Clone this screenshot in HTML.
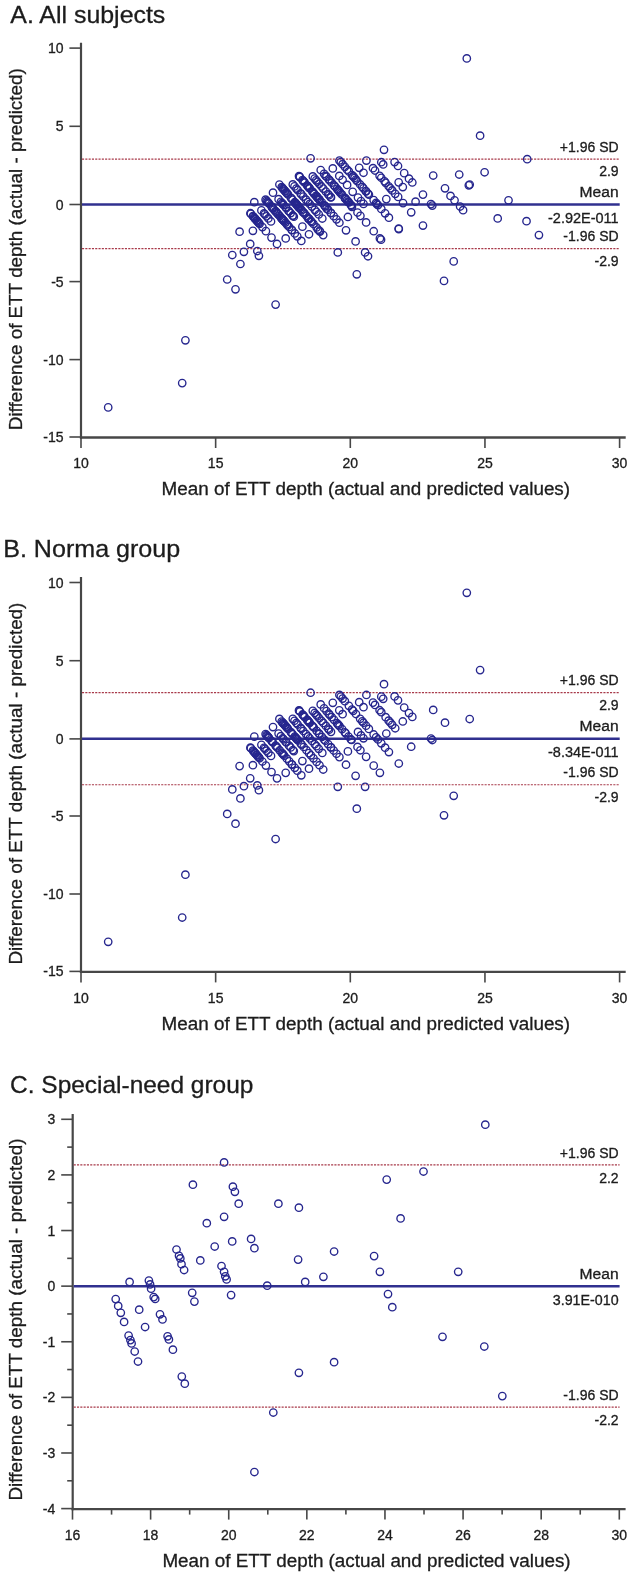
<!DOCTYPE html>
<html><head><meta charset="utf-8"><style>
html,body{margin:0;padding:0;background:#fff;}
svg{display:block;will-change:transform;}
text{font-family:"Liberation Sans",sans-serif;fill:#1c1c1c;stroke:#1c1c1c;stroke-width:0.3px;}
</style></head><body>
<svg width="632" height="1575" viewBox="0 0 632 1575">
<rect width="632" height="1575" fill="#fff"/>
<text x="10.3" y="22.6" font-size="24" text-anchor="start" textLength="155" lengthAdjust="spacingAndGlyphs">A. All subjects</text>
<text transform="translate(22.2,249.2) rotate(-90)" x="0" y="0" font-size="18" text-anchor="middle" textLength="362" lengthAdjust="spacingAndGlyphs">Difference of ETT depth (actual - predicted)</text>
<text x="161.6" y="495.1" font-size="18" text-anchor="start" textLength="408.5" lengthAdjust="spacingAndGlyphs">Mean of ETT depth (actual and predicted values)</text>
<line x1="81" y1="42.7" x2="81" y2="438.7" stroke="#474747" stroke-width="2.2"/>
<line x1="79.9" y1="437.5" x2="625.7" y2="437.5" stroke="#474747" stroke-width="2.4"/>
<line x1="69.4" y1="48.1" x2="81" y2="48.1" stroke="#474747" stroke-width="1.6"/>
<text x="63.6" y="53.1" font-size="14" text-anchor="end">10</text>
<line x1="69.4" y1="126.3" x2="81" y2="126.3" stroke="#474747" stroke-width="1.6"/>
<text x="63.6" y="131.3" font-size="14" text-anchor="end">5</text>
<line x1="69.4" y1="204.5" x2="81" y2="204.5" stroke="#474747" stroke-width="1.6"/>
<text x="63.6" y="209.5" font-size="14" text-anchor="end">0</text>
<line x1="69.4" y1="281.6" x2="81" y2="281.6" stroke="#474747" stroke-width="1.6"/>
<text x="63.6" y="286.6" font-size="14" text-anchor="end">-5</text>
<line x1="69.4" y1="359.6" x2="81" y2="359.6" stroke="#474747" stroke-width="1.6"/>
<text x="63.6" y="364.6" font-size="14" text-anchor="end">-10</text>
<line x1="69.4" y1="437" x2="81" y2="437" stroke="#474747" stroke-width="1.6"/>
<text x="63.6" y="442" font-size="14" text-anchor="end">-15</text>
<line x1="81" y1="437.5" x2="81" y2="448.0" stroke="#474747" stroke-width="1.6"/>
<text x="81" y="468.3" font-size="14" text-anchor="middle">10</text>
<line x1="215.65" y1="437.5" x2="215.65" y2="448.0" stroke="#474747" stroke-width="1.6"/>
<text x="215.65" y="468.3" font-size="14" text-anchor="middle">15</text>
<line x1="350.3" y1="437.5" x2="350.3" y2="448.0" stroke="#474747" stroke-width="1.6"/>
<text x="350.3" y="468.3" font-size="14" text-anchor="middle">20</text>
<line x1="484.95" y1="437.5" x2="484.95" y2="448.0" stroke="#474747" stroke-width="1.6"/>
<text x="484.95" y="468.3" font-size="14" text-anchor="middle">25</text>
<line x1="619.6" y1="437.5" x2="619.6" y2="448.0" stroke="#474747" stroke-width="1.6"/>
<text x="619.6" y="468.3" font-size="14" text-anchor="middle">30</text>
<line x1="82" y1="159.2" x2="619.7" y2="159.2" stroke="#a83a4a" stroke-width="1.2" stroke-dasharray="2.1 1.2"/>
<text x="618.6" y="151.9" font-size="14" text-anchor="end">+1.96 SD</text>
<text x="618.6" y="176.4" font-size="14" text-anchor="end">2.9</text>
<line x1="82" y1="204.45" x2="619.7" y2="204.45" stroke="#30308f" stroke-width="2.5"/>
<text x="618.6" y="196.7" font-size="14" text-anchor="end" textLength="39" lengthAdjust="spacingAndGlyphs">Mean</text>
<text x="618.6" y="223.4" font-size="14" text-anchor="end" textLength="70.6" lengthAdjust="spacingAndGlyphs">-2.92E-011</text>
<line x1="82" y1="248.6" x2="619.7" y2="248.6" stroke="#a83a4a" stroke-width="1.2" stroke-dasharray="2.1 1.2"/>
<text x="618.6" y="241.4" font-size="14" text-anchor="end">-1.96 SD</text>
<text x="618.6" y="265.9" font-size="14" text-anchor="end">-2.9</text>
<text x="3.2" y="556.8" font-size="24" text-anchor="start" textLength="177" lengthAdjust="spacingAndGlyphs">B. Norma group</text>
<text transform="translate(22.2,783.6) rotate(-90)" x="0" y="0" font-size="18" text-anchor="middle" textLength="362" lengthAdjust="spacingAndGlyphs">Difference of ETT depth (actual - predicted)</text>
<text x="161.6" y="1029.5" font-size="18" text-anchor="start" textLength="408.5" lengthAdjust="spacingAndGlyphs">Mean of ETT depth (actual and predicted values)</text>
<line x1="81" y1="577.1" x2="81" y2="973.1" stroke="#474747" stroke-width="2.2"/>
<line x1="79.9" y1="971.9" x2="625.7" y2="971.9" stroke="#474747" stroke-width="2.4"/>
<line x1="69.4" y1="582.5" x2="81" y2="582.5" stroke="#474747" stroke-width="1.6"/>
<text x="63.6" y="587.5" font-size="14" text-anchor="end">10</text>
<line x1="69.4" y1="660.7" x2="81" y2="660.7" stroke="#474747" stroke-width="1.6"/>
<text x="63.6" y="665.7" font-size="14" text-anchor="end">5</text>
<line x1="69.4" y1="738.9" x2="81" y2="738.9" stroke="#474747" stroke-width="1.6"/>
<text x="63.6" y="743.9" font-size="14" text-anchor="end">0</text>
<line x1="69.4" y1="816" x2="81" y2="816" stroke="#474747" stroke-width="1.6"/>
<text x="63.6" y="821" font-size="14" text-anchor="end">-5</text>
<line x1="69.4" y1="894" x2="81" y2="894" stroke="#474747" stroke-width="1.6"/>
<text x="63.6" y="899" font-size="14" text-anchor="end">-10</text>
<line x1="69.4" y1="971.4" x2="81" y2="971.4" stroke="#474747" stroke-width="1.6"/>
<text x="63.6" y="976.4" font-size="14" text-anchor="end">-15</text>
<line x1="81" y1="971.9" x2="81" y2="982.4" stroke="#474747" stroke-width="1.6"/>
<text x="81" y="1002.7" font-size="14" text-anchor="middle">10</text>
<line x1="215.65" y1="971.9" x2="215.65" y2="982.4" stroke="#474747" stroke-width="1.6"/>
<text x="215.65" y="1002.7" font-size="14" text-anchor="middle">15</text>
<line x1="350.3" y1="971.9" x2="350.3" y2="982.4" stroke="#474747" stroke-width="1.6"/>
<text x="350.3" y="1002.7" font-size="14" text-anchor="middle">20</text>
<line x1="484.95" y1="971.9" x2="484.95" y2="982.4" stroke="#474747" stroke-width="1.6"/>
<text x="484.95" y="1002.7" font-size="14" text-anchor="middle">25</text>
<line x1="619.6" y1="971.9" x2="619.6" y2="982.4" stroke="#474747" stroke-width="1.6"/>
<text x="619.6" y="1002.7" font-size="14" text-anchor="middle">30</text>
<line x1="82" y1="692.7" x2="619.7" y2="692.7" stroke="#a83a4a" stroke-width="1.2" stroke-dasharray="2.1 1.2"/>
<text x="618.6" y="685" font-size="14" text-anchor="end">+1.96 SD</text>
<text x="618.6" y="709.6" font-size="14" text-anchor="end">2.9</text>
<line x1="82" y1="738.7" x2="619.7" y2="738.7" stroke="#30308f" stroke-width="2.5"/>
<text x="618.6" y="730.8" font-size="14" text-anchor="end" textLength="39" lengthAdjust="spacingAndGlyphs">Mean</text>
<text x="618.6" y="757.3" font-size="14" text-anchor="end" textLength="70.6" lengthAdjust="spacingAndGlyphs">-8.34E-011</text>
<line x1="82" y1="784.75" x2="619.7" y2="784.75" stroke="#a83a4a" stroke-width="1.2" stroke-dasharray="2.1 1.2"/>
<text x="618.6" y="777.4" font-size="14" text-anchor="end">-1.96 SD</text>
<text x="618.6" y="801.7" font-size="14" text-anchor="end">-2.9</text>
<text x="10.1" y="1093" font-size="24" text-anchor="start" textLength="243.3" lengthAdjust="spacingAndGlyphs">C. Special-need group</text>
<text transform="translate(22.2,1319.5) rotate(-90)" x="0" y="0" font-size="18" text-anchor="middle" textLength="362" lengthAdjust="spacingAndGlyphs">Difference of ETT depth (actual - predicted)</text>
<text x="162.4" y="1566.5" font-size="18" text-anchor="start" textLength="408.2" lengthAdjust="spacingAndGlyphs">Mean of ETT depth (actual and predicted values)</text>
<line x1="72.7" y1="1114" x2="72.7" y2="1510.3" stroke="#474747" stroke-width="2.2"/>
<line x1="71.60000000000001" y1="1509.1" x2="625.6" y2="1509.1" stroke="#474747" stroke-width="2.4"/>
<line x1="61.2" y1="1119.3" x2="72.7" y2="1119.3" stroke="#474747" stroke-width="1.6"/>
<text x="55.3" y="1124.3" font-size="14" text-anchor="end">3</text>
<line x1="61.2" y1="1174.91" x2="72.7" y2="1174.91" stroke="#474747" stroke-width="1.6"/>
<text x="55.3" y="1179.91" font-size="14" text-anchor="end">2</text>
<line x1="61.2" y1="1230.53" x2="72.7" y2="1230.53" stroke="#474747" stroke-width="1.6"/>
<text x="55.3" y="1235.53" font-size="14" text-anchor="end">1</text>
<line x1="61.2" y1="1286.14" x2="72.7" y2="1286.14" stroke="#474747" stroke-width="1.6"/>
<text x="55.3" y="1291.14" font-size="14" text-anchor="end">0</text>
<line x1="61.2" y1="1341.76" x2="72.7" y2="1341.76" stroke="#474747" stroke-width="1.6"/>
<text x="55.3" y="1346.76" font-size="14" text-anchor="end">-1</text>
<line x1="61.2" y1="1397.37" x2="72.7" y2="1397.37" stroke="#474747" stroke-width="1.6"/>
<text x="55.3" y="1402.37" font-size="14" text-anchor="end">-2</text>
<line x1="61.2" y1="1452.99" x2="72.7" y2="1452.99" stroke="#474747" stroke-width="1.6"/>
<text x="55.3" y="1457.99" font-size="14" text-anchor="end">-3</text>
<line x1="61.2" y1="1508.6" x2="72.7" y2="1508.6" stroke="#474747" stroke-width="1.6"/>
<text x="55.3" y="1513.6" font-size="14" text-anchor="end">-4</text>
<line x1="67.2" y1="1480.79" x2="72.7" y2="1480.79" stroke="#474747" stroke-width="1.6"/>
<line x1="67.2" y1="1425.18" x2="72.7" y2="1425.18" stroke="#474747" stroke-width="1.6"/>
<line x1="67.2" y1="1369.56" x2="72.7" y2="1369.56" stroke="#474747" stroke-width="1.6"/>
<line x1="67.2" y1="1313.95" x2="72.7" y2="1313.95" stroke="#474747" stroke-width="1.6"/>
<line x1="67.2" y1="1258.34" x2="72.7" y2="1258.34" stroke="#474747" stroke-width="1.6"/>
<line x1="67.2" y1="1202.72" x2="72.7" y2="1202.72" stroke="#474747" stroke-width="1.6"/>
<line x1="67.2" y1="1147.11" x2="72.7" y2="1147.11" stroke="#474747" stroke-width="1.6"/>
<line x1="72.5" y1="1509.1" x2="72.5" y2="1519.6" stroke="#474747" stroke-width="1.6"/>
<text x="72.5" y="1539.6" font-size="14" text-anchor="middle">16</text>
<line x1="150.61" y1="1509.1" x2="150.61" y2="1519.6" stroke="#474747" stroke-width="1.6"/>
<text x="150.61" y="1539.6" font-size="14" text-anchor="middle">18</text>
<line x1="228.73" y1="1509.1" x2="228.73" y2="1519.6" stroke="#474747" stroke-width="1.6"/>
<text x="228.73" y="1539.6" font-size="14" text-anchor="middle">20</text>
<line x1="306.84" y1="1509.1" x2="306.84" y2="1519.6" stroke="#474747" stroke-width="1.6"/>
<text x="306.84" y="1539.6" font-size="14" text-anchor="middle">22</text>
<line x1="384.96" y1="1509.1" x2="384.96" y2="1519.6" stroke="#474747" stroke-width="1.6"/>
<text x="384.96" y="1539.6" font-size="14" text-anchor="middle">24</text>
<line x1="463.07" y1="1509.1" x2="463.07" y2="1519.6" stroke="#474747" stroke-width="1.6"/>
<text x="463.07" y="1539.6" font-size="14" text-anchor="middle">26</text>
<line x1="541.19" y1="1509.1" x2="541.19" y2="1519.6" stroke="#474747" stroke-width="1.6"/>
<text x="541.19" y="1539.6" font-size="14" text-anchor="middle">28</text>
<line x1="619.3" y1="1509.1" x2="619.3" y2="1519.6" stroke="#474747" stroke-width="1.6"/>
<text x="619.3" y="1539.6" font-size="14" text-anchor="middle">30</text>
<line x1="111.56" y1="1509.1" x2="111.56" y2="1514.6" stroke="#474747" stroke-width="1.6"/>
<line x1="189.67" y1="1509.1" x2="189.67" y2="1514.6" stroke="#474747" stroke-width="1.6"/>
<line x1="267.79" y1="1509.1" x2="267.79" y2="1514.6" stroke="#474747" stroke-width="1.6"/>
<line x1="345.9" y1="1509.1" x2="345.9" y2="1514.6" stroke="#474747" stroke-width="1.6"/>
<line x1="424.01" y1="1509.1" x2="424.01" y2="1514.6" stroke="#474747" stroke-width="1.6"/>
<line x1="502.13" y1="1509.1" x2="502.13" y2="1514.6" stroke="#474747" stroke-width="1.6"/>
<line x1="580.24" y1="1509.1" x2="580.24" y2="1514.6" stroke="#474747" stroke-width="1.6"/>
<line x1="73.7" y1="1164.9" x2="619.6" y2="1164.9" stroke="#a83a4a" stroke-width="1.2" stroke-dasharray="2.1 1.2"/>
<text x="618.6" y="1158" font-size="14" text-anchor="end">+1.96 SD</text>
<text x="618.6" y="1182.7" font-size="14" text-anchor="end">2.2</text>
<line x1="73.7" y1="1286.14" x2="619.6" y2="1286.14" stroke="#30308f" stroke-width="2.5"/>
<text x="618.6" y="1278.84" font-size="14" text-anchor="end" textLength="39" lengthAdjust="spacingAndGlyphs">Mean</text>
<text x="618.6" y="1305.04" font-size="14" text-anchor="end" textLength="65.8" lengthAdjust="spacingAndGlyphs">3.91E-010</text>
<line x1="73.7" y1="1407.2" x2="619.6" y2="1407.2" stroke="#a83a4a" stroke-width="1.2" stroke-dasharray="2.1 1.2"/>
<text x="618.6" y="1399.5" font-size="14" text-anchor="end">-1.96 SD</text>
<text x="618.6" y="1424.8" font-size="14" text-anchor="end">-2.2</text>
<g fill="none" stroke="#26268e" stroke-width="1.35"><circle cx="250.4" cy="213.23" r="3.7"/><circle cx="250.91" cy="213.82" r="3.7"/><circle cx="252.98" cy="216.21" r="3.7"/><circle cx="253.63" cy="216.97" r="3.7"/><circle cx="254.39" cy="217.84" r="3.7"/><circle cx="255.09" cy="218.66" r="3.7"/><circle cx="255.56" cy="219.19" r="3.7"/><circle cx="256.54" cy="220.32" r="3.7"/><circle cx="257.09" cy="220.96" r="3.7"/><circle cx="258.15" cy="222.19" r="3.7"/><circle cx="258.83" cy="222.98" r="3.7"/><circle cx="259.6" cy="223.86" r="3.7"/><circle cx="262.4" cy="227.1" r="3.7"/><circle cx="265.9" cy="231.14" r="3.7"/><circle cx="271.5" cy="237.61" r="3.7"/><circle cx="277" cy="243.97" r="3.7"/><circle cx="254.3" cy="202.18" r="3.7"/><circle cx="261.4" cy="210.39" r="3.7"/><circle cx="264.01" cy="213.4" r="3.7"/><circle cx="264.84" cy="214.36" r="3.7"/><circle cx="266.48" cy="216.25" r="3.7"/><circle cx="268.35" cy="218.41" r="3.7"/><circle cx="271" cy="221.48" r="3.7"/><circle cx="285.7" cy="238.46" r="3.7"/><circle cx="265.6" cy="199.68" r="3.7"/><circle cx="266.57" cy="200.8" r="3.7"/><circle cx="267.38" cy="201.74" r="3.7"/><circle cx="268.04" cy="202.5" r="3.7"/><circle cx="268.48" cy="203.01" r="3.7"/><circle cx="269.03" cy="203.64" r="3.7"/><circle cx="271.45" cy="206.45" r="3.7"/><circle cx="272.26" cy="207.38" r="3.7"/><circle cx="272.87" cy="208.09" r="3.7"/><circle cx="275.57" cy="211.21" r="3.7"/><circle cx="276.38" cy="212.13" r="3.7"/><circle cx="277.39" cy="213.3" r="3.7"/><circle cx="279.68" cy="215.94" r="3.7"/><circle cx="281.79" cy="218.39" r="3.7"/><circle cx="282.72" cy="219.47" r="3.7"/><circle cx="283.47" cy="220.32" r="3.7"/><circle cx="284.33" cy="221.33" r="3.7"/><circle cx="286.91" cy="224.3" r="3.7"/><circle cx="289.22" cy="226.97" r="3.7"/><circle cx="291.82" cy="229.97" r="3.7"/><circle cx="292" cy="230.18" r="3.7"/><circle cx="294.8" cy="233.42" r="3.7"/><circle cx="297.3" cy="236.31" r="3.7"/><circle cx="301.3" cy="240.93" r="3.7"/><circle cx="273" cy="192.68" r="3.7"/><circle cx="278.6" cy="199.15" r="3.7"/><circle cx="280.86" cy="201.76" r="3.7"/><circle cx="282.73" cy="203.92" r="3.7"/><circle cx="283.62" cy="204.95" r="3.7"/><circle cx="285.63" cy="207.27" r="3.7"/><circle cx="286.3" cy="208.04" r="3.7"/><circle cx="289.07" cy="211.25" r="3.7"/><circle cx="290.67" cy="213.09" r="3.7"/><circle cx="292.94" cy="215.72" r="3.7"/><circle cx="293.8" cy="216.71" r="3.7"/><circle cx="302.4" cy="226.64" r="3.7"/><circle cx="309" cy="234.27" r="3.7"/><circle cx="279.4" cy="184.51" r="3.7"/><circle cx="281.68" cy="187.15" r="3.7"/><circle cx="282.55" cy="188.16" r="3.7"/><circle cx="283.28" cy="188.99" r="3.7"/><circle cx="283.76" cy="189.55" r="3.7"/><circle cx="284.7" cy="190.63" r="3.7"/><circle cx="285.27" cy="191.29" r="3.7"/><circle cx="286.28" cy="192.46" r="3.7"/><circle cx="286.99" cy="193.29" r="3.7"/><circle cx="288.01" cy="194.46" r="3.7"/><circle cx="290.88" cy="197.77" r="3.7"/><circle cx="291.57" cy="198.57" r="3.7"/><circle cx="292.59" cy="199.75" r="3.7"/><circle cx="294.74" cy="202.23" r="3.7"/><circle cx="295.3" cy="202.88" r="3.7"/><circle cx="296.04" cy="203.74" r="3.7"/><circle cx="296.62" cy="204.41" r="3.7"/><circle cx="297.32" cy="205.21" r="3.7"/><circle cx="298.11" cy="206.13" r="3.7"/><circle cx="300.8" cy="209.24" r="3.7"/><circle cx="301.63" cy="210.2" r="3.7"/><circle cx="303.69" cy="212.57" r="3.7"/><circle cx="306.47" cy="215.79" r="3.7"/><circle cx="309" cy="218.71" r="3.7"/><circle cx="310.9" cy="220.91" r="3.7"/><circle cx="313.5" cy="223.91" r="3.7"/><circle cx="316.6" cy="227.49" r="3.7"/><circle cx="319.5" cy="230.84" r="3.7"/><circle cx="323.2" cy="235.12" r="3.7"/><circle cx="292.8" cy="184.44" r="3.7"/><circle cx="294.48" cy="186.38" r="3.7"/><circle cx="296.38" cy="188.58" r="3.7"/><circle cx="297.71" cy="190.11" r="3.7"/><circle cx="300.6" cy="193.45" r="3.7"/><circle cx="301.4" cy="194.38" r="3.7"/><circle cx="303.3" cy="196.57" r="3.7"/><circle cx="306" cy="199.69" r="3.7"/><circle cx="308" cy="202" r="3.7"/><circle cx="309.69" cy="203.95" r="3.7"/><circle cx="311.96" cy="206.58" r="3.7"/><circle cx="314.77" cy="209.82" r="3.7"/><circle cx="316.47" cy="211.78" r="3.7"/><circle cx="318.73" cy="214.39" r="3.7"/><circle cx="322.3" cy="218.52" r="3.7"/><circle cx="299" cy="176.05" r="3.7"/><circle cx="299.47" cy="176.59" r="3.7"/><circle cx="299.89" cy="177.07" r="3.7"/><circle cx="302.5" cy="180.09" r="3.7"/><circle cx="303.08" cy="180.76" r="3.7"/><circle cx="303.73" cy="181.52" r="3.7"/><circle cx="304.73" cy="182.66" r="3.7"/><circle cx="307.19" cy="185.51" r="3.7"/><circle cx="307.65" cy="186.04" r="3.7"/><circle cx="308.29" cy="186.78" r="3.7"/><circle cx="309.27" cy="187.92" r="3.7"/><circle cx="309.69" cy="188.4" r="3.7"/><circle cx="312.22" cy="191.32" r="3.7"/><circle cx="313" cy="192.22" r="3.7"/><circle cx="313.77" cy="193.11" r="3.7"/><circle cx="316.63" cy="196.42" r="3.7"/><circle cx="318.89" cy="199.03" r="3.7"/><circle cx="319.41" cy="199.63" r="3.7"/><circle cx="321.94" cy="202.55" r="3.7"/><circle cx="324.27" cy="205.24" r="3.7"/><circle cx="325.24" cy="206.36" r="3.7"/><circle cx="328.09" cy="209.66" r="3.7"/><circle cx="330.91" cy="212.91" r="3.7"/><circle cx="331" cy="213.01" r="3.7"/><circle cx="333.7" cy="216.13" r="3.7"/><circle cx="336.5" cy="219.37" r="3.7"/><circle cx="339.4" cy="222.72" r="3.7"/><circle cx="346" cy="230.34" r="3.7"/><circle cx="355.6" cy="241.44" r="3.7"/><circle cx="312.8" cy="176.43" r="3.7"/><circle cx="314.65" cy="178.57" r="3.7"/><circle cx="316.18" cy="180.33" r="3.7"/><circle cx="317.4" cy="181.75" r="3.7"/><circle cx="319.22" cy="183.85" r="3.7"/><circle cx="321.5" cy="186.48" r="3.7"/><circle cx="323.28" cy="188.54" r="3.7"/><circle cx="325.89" cy="191.56" r="3.7"/><circle cx="328.19" cy="194.21" r="3.7"/><circle cx="329.08" cy="195.25" r="3.7"/><circle cx="331" cy="197.46" r="3.7"/><circle cx="347.9" cy="216.98" r="3.7"/><circle cx="310.6" cy="158.33" r="3.7"/><circle cx="320.7" cy="170" r="3.7"/><circle cx="324.05" cy="173.87" r="3.7"/><circle cx="326.49" cy="176.7" r="3.7"/><circle cx="328.75" cy="179.3" r="3.7"/><circle cx="329.7" cy="180.4" r="3.7"/><circle cx="331.69" cy="182.7" r="3.7"/><circle cx="334.04" cy="185.41" r="3.7"/><circle cx="337" cy="188.83" r="3.7"/><circle cx="338" cy="189.99" r="3.7"/><circle cx="338.54" cy="190.62" r="3.7"/><circle cx="339.57" cy="191.81" r="3.7"/><circle cx="342.05" cy="194.67" r="3.7"/><circle cx="344.85" cy="197.91" r="3.7"/><circle cx="345.71" cy="198.9" r="3.7"/><circle cx="348.5" cy="202.12" r="3.7"/><circle cx="350.98" cy="204.98" r="3.7"/><circle cx="351.5" cy="205.59" r="3.7"/><circle cx="357.5" cy="212.52" r="3.7"/><circle cx="360.4" cy="215.87" r="3.7"/><circle cx="366.1" cy="222.45" r="3.7"/><circle cx="373.7" cy="231.23" r="3.7"/><circle cx="379.9" cy="238.4" r="3.7"/><circle cx="332.8" cy="168.43" r="3.7"/><circle cx="339.3" cy="175.94" r="3.7"/><circle cx="342.6" cy="179.75" r="3.7"/><circle cx="358" cy="197.54" r="3.7"/><circle cx="361" cy="201.01" r="3.7"/><circle cx="363.5" cy="203.89" r="3.7"/><circle cx="339.4" cy="160.5" r="3.7"/><circle cx="340.8" cy="162.11" r="3.7"/><circle cx="342.6" cy="164.19" r="3.7"/><circle cx="344.87" cy="166.81" r="3.7"/><circle cx="348.87" cy="171.43" r="3.7"/><circle cx="352.05" cy="175.11" r="3.7"/><circle cx="353.21" cy="176.45" r="3.7"/><circle cx="355.95" cy="179.61" r="3.7"/><circle cx="360.16" cy="184.47" r="3.7"/><circle cx="362.27" cy="186.92" r="3.7"/><circle cx="363.49" cy="188.32" r="3.7"/><circle cx="366.09" cy="191.33" r="3.7"/><circle cx="368.88" cy="194.55" r="3.7"/><circle cx="373.66" cy="200.07" r="3.7"/><circle cx="376.11" cy="202.91" r="3.7"/><circle cx="378" cy="205.09" r="3.7"/><circle cx="381.3" cy="208.9" r="3.7"/><circle cx="385.1" cy="213.29" r="3.7"/><circle cx="388.9" cy="217.68" r="3.7"/><circle cx="398.8" cy="229.12" r="3.7"/><circle cx="359.2" cy="167.81" r="3.7"/><circle cx="363.5" cy="172.78" r="3.7"/><circle cx="386.3" cy="199.12" r="3.7"/><circle cx="366.4" cy="160.58" r="3.7"/><circle cx="373" cy="168.2" r="3.7"/><circle cx="375" cy="170.51" r="3.7"/><circle cx="379.6" cy="175.83" r="3.7"/><circle cx="381.28" cy="177.77" r="3.7"/><circle cx="385.65" cy="182.81" r="3.7"/><circle cx="388.65" cy="186.28" r="3.7"/><circle cx="390.41" cy="188.31" r="3.7"/><circle cx="392.21" cy="190.4" r="3.7"/><circle cx="395.2" cy="193.85" r="3.7"/><circle cx="411.2" cy="212.33" r="3.7"/><circle cx="381.3" cy="162.23" r="3.7"/><circle cx="383.2" cy="164.43" r="3.7"/><circle cx="402.8" cy="187.07" r="3.7"/><circle cx="384" cy="149.8" r="3.7"/><circle cx="394.6" cy="162.04" r="3.7"/><circle cx="398" cy="165.97" r="3.7"/><circle cx="404.2" cy="173.13" r="3.7"/><circle cx="409" cy="178.68" r="3.7"/><circle cx="412.3" cy="182.49" r="3.7"/><circle cx="431" cy="204.1" r="3.7"/><circle cx="432.3" cy="205.6" r="3.7"/><circle cx="433.2" cy="175.53" r="3.7"/><circle cx="108.2" cy="407.4" r="3.7"/><circle cx="182.2" cy="383.1" r="3.7"/><circle cx="185.4" cy="340.3" r="3.7"/><circle cx="239.6" cy="231.7" r="3.7"/><circle cx="250.2" cy="243.9" r="3.7"/><circle cx="243.9" cy="251.8" r="3.7"/><circle cx="232.3" cy="255" r="3.7"/><circle cx="240.4" cy="264" r="3.7"/><circle cx="227.2" cy="279.5" r="3.7"/><circle cx="235.5" cy="289.3" r="3.7"/><circle cx="257.3" cy="251" r="3.7"/><circle cx="258.9" cy="255.8" r="3.7"/><circle cx="252.9" cy="230.8" r="3.7"/><circle cx="275.6" cy="304.6" r="3.7"/><circle cx="337.8" cy="252.4" r="3.7"/><circle cx="365.1" cy="252.4" r="3.7"/><circle cx="356.8" cy="274.3" r="3.7"/><circle cx="466.8" cy="58.4" r="3.7"/><circle cx="480.1" cy="135.7" r="3.7"/><circle cx="445" cy="188.3" r="3.7"/><circle cx="469.7" cy="184.6" r="3.7"/><circle cx="453.7" cy="261.4" r="3.7"/><circle cx="444" cy="280.9" r="3.7"/><circle cx="347.11" cy="169.7" r="3.7"/><circle cx="325.6" cy="175.94" r="3.7"/><circle cx="353.18" cy="176.5" r="3.7"/><circle cx="354.56" cy="177.92" r="3.7"/><circle cx="357.18" cy="181.25" r="3.7"/><circle cx="347.11" cy="184.91" r="3.7"/><circle cx="335.18" cy="186.7" r="3.7"/><circle cx="365.73" cy="191.09" r="3.7"/><circle cx="368" cy="193.69" r="3.7"/><circle cx="352.69" cy="191.79" r="3.7"/><circle cx="340.63" cy="193.22" r="3.7"/><circle cx="281.95" cy="203.11" r="3.7"/><circle cx="295.26" cy="202.75" r="3.7"/><circle cx="296.09" cy="203.81" r="3.7"/><circle cx="296.78" cy="205.02" r="3.7"/><circle cx="298.57" cy="207.36" r="3.7"/><circle cx="299.6" cy="207.87" r="3.7"/><circle cx="272.37" cy="207.92" r="3.7"/><circle cx="274.09" cy="209.83" r="3.7"/><circle cx="275.88" cy="211.75" r="3.7"/><circle cx="278.16" cy="214.3" r="3.7"/><circle cx="288.57" cy="210.89" r="3.7"/><circle cx="292.64" cy="215.72" r="3.7"/><circle cx="302.91" cy="212.17" r="3.7"/><circle cx="304.64" cy="213.6" r="3.7"/><circle cx="281.26" cy="218.13" r="3.7"/><circle cx="282.5" cy="219.39" r="3.7"/><circle cx="283.33" cy="220.31" r="3.7"/><circle cx="285.47" cy="222.58" r="3.7"/><circle cx="308.15" cy="218.33" r="3.7"/><circle cx="309.05" cy="219.19" r="3.7"/><circle cx="311.81" cy="222.07" r="3.7"/><circle cx="287.74" cy="225.37" r="3.7"/><circle cx="314.29" cy="194.06" r="3.7"/><circle cx="316.01" cy="195.82" r="3.7"/><circle cx="316.91" cy="196.54" r="3.7"/><circle cx="317.74" cy="198.17" r="3.7"/><circle cx="319.53" cy="199.79" r="3.7"/><circle cx="330.7" cy="197.1" r="3.7"/><circle cx="345.32" cy="198.67" r="3.7"/><circle cx="347.11" cy="200.29" r="3.7"/><circle cx="347.94" cy="201.55" r="3.7"/><circle cx="348.83" cy="202.42" r="3.7"/><circle cx="325.11" cy="206.16" r="3.7"/><circle cx="326.63" cy="208.62" r="3.7"/><circle cx="351.94" cy="206.81" r="3.7"/><circle cx="317.94" cy="229.59" r="3.7"/><circle cx="320.01" cy="231.58" r="3.7"/><circle cx="368" cy="256.27" r="3.7"/><circle cx="384.55" cy="181.25" r="3.7"/><circle cx="398.68" cy="182.37" r="3.7"/><circle cx="459.22" cy="174.51" r="3.7"/><circle cx="468.81" cy="185.36" r="3.7"/><circle cx="376.83" cy="204.18" r="3.7"/><circle cx="398.13" cy="196.88" r="3.7"/><circle cx="403.03" cy="203.11" r="3.7"/><circle cx="415.58" cy="201.69" r="3.7"/><circle cx="422.95" cy="194.61" r="3.7"/><circle cx="450.53" cy="195.9" r="3.7"/><circle cx="454.53" cy="200.29" r="3.7"/><circle cx="460.12" cy="206.53" r="3.7"/><circle cx="463.08" cy="210.19" r="3.7"/><circle cx="422.95" cy="225.57" r="3.7"/><circle cx="398.68" cy="228.53" r="3.7"/><circle cx="381.03" cy="239.63" r="3.7"/><circle cx="527.21" cy="159.16" r="3.7"/><circle cx="484.6" cy="172.25" r="3.7"/><circle cx="508.52" cy="200.29" r="3.7"/><circle cx="497.7" cy="218.46" r="3.7"/><circle cx="526.52" cy="221.18" r="3.7"/><circle cx="538.93" cy="235.05" r="3.7"/><circle cx="250.4" cy="747.63" r="3.7"/><circle cx="250.91" cy="748.22" r="3.7"/><circle cx="252.98" cy="750.61" r="3.7"/><circle cx="253.63" cy="751.37" r="3.7"/><circle cx="254.39" cy="752.24" r="3.7"/><circle cx="255.09" cy="753.06" r="3.7"/><circle cx="255.56" cy="753.59" r="3.7"/><circle cx="256.54" cy="754.72" r="3.7"/><circle cx="257.09" cy="755.36" r="3.7"/><circle cx="258.15" cy="756.59" r="3.7"/><circle cx="258.83" cy="757.38" r="3.7"/><circle cx="259.6" cy="758.26" r="3.7"/><circle cx="262.4" cy="761.5" r="3.7"/><circle cx="265.9" cy="765.54" r="3.7"/><circle cx="271.5" cy="772.01" r="3.7"/><circle cx="277" cy="778.37" r="3.7"/><circle cx="254.3" cy="736.58" r="3.7"/><circle cx="261.4" cy="744.79" r="3.7"/><circle cx="264.01" cy="747.8" r="3.7"/><circle cx="264.84" cy="748.76" r="3.7"/><circle cx="266.48" cy="750.65" r="3.7"/><circle cx="268.35" cy="752.81" r="3.7"/><circle cx="271" cy="755.88" r="3.7"/><circle cx="285.7" cy="772.86" r="3.7"/><circle cx="265.6" cy="734.08" r="3.7"/><circle cx="266.57" cy="735.2" r="3.7"/><circle cx="267.38" cy="736.14" r="3.7"/><circle cx="268.04" cy="736.9" r="3.7"/><circle cx="268.48" cy="737.41" r="3.7"/><circle cx="269.03" cy="738.04" r="3.7"/><circle cx="271.45" cy="740.85" r="3.7"/><circle cx="272.26" cy="741.78" r="3.7"/><circle cx="272.87" cy="742.49" r="3.7"/><circle cx="275.57" cy="745.61" r="3.7"/><circle cx="276.38" cy="746.53" r="3.7"/><circle cx="277.39" cy="747.7" r="3.7"/><circle cx="279.68" cy="750.34" r="3.7"/><circle cx="281.79" cy="752.79" r="3.7"/><circle cx="282.72" cy="753.87" r="3.7"/><circle cx="283.47" cy="754.72" r="3.7"/><circle cx="284.33" cy="755.73" r="3.7"/><circle cx="286.91" cy="758.7" r="3.7"/><circle cx="289.22" cy="761.37" r="3.7"/><circle cx="291.82" cy="764.37" r="3.7"/><circle cx="292" cy="764.58" r="3.7"/><circle cx="294.8" cy="767.82" r="3.7"/><circle cx="297.3" cy="770.71" r="3.7"/><circle cx="301.3" cy="775.33" r="3.7"/><circle cx="273" cy="727.08" r="3.7"/><circle cx="278.6" cy="733.55" r="3.7"/><circle cx="280.86" cy="736.16" r="3.7"/><circle cx="282.73" cy="738.32" r="3.7"/><circle cx="283.62" cy="739.35" r="3.7"/><circle cx="285.63" cy="741.67" r="3.7"/><circle cx="286.3" cy="742.44" r="3.7"/><circle cx="289.07" cy="745.65" r="3.7"/><circle cx="290.67" cy="747.49" r="3.7"/><circle cx="292.94" cy="750.12" r="3.7"/><circle cx="293.8" cy="751.11" r="3.7"/><circle cx="302.4" cy="761.04" r="3.7"/><circle cx="309" cy="768.67" r="3.7"/><circle cx="279.4" cy="718.91" r="3.7"/><circle cx="281.68" cy="721.55" r="3.7"/><circle cx="282.55" cy="722.56" r="3.7"/><circle cx="283.28" cy="723.39" r="3.7"/><circle cx="283.76" cy="723.95" r="3.7"/><circle cx="284.7" cy="725.03" r="3.7"/><circle cx="285.27" cy="725.69" r="3.7"/><circle cx="286.28" cy="726.86" r="3.7"/><circle cx="286.99" cy="727.69" r="3.7"/><circle cx="288.01" cy="728.86" r="3.7"/><circle cx="290.88" cy="732.17" r="3.7"/><circle cx="291.57" cy="732.97" r="3.7"/><circle cx="292.59" cy="734.15" r="3.7"/><circle cx="294.74" cy="736.63" r="3.7"/><circle cx="295.3" cy="737.28" r="3.7"/><circle cx="296.04" cy="738.14" r="3.7"/><circle cx="296.62" cy="738.81" r="3.7"/><circle cx="297.32" cy="739.61" r="3.7"/><circle cx="298.11" cy="740.53" r="3.7"/><circle cx="300.8" cy="743.64" r="3.7"/><circle cx="301.63" cy="744.6" r="3.7"/><circle cx="303.69" cy="746.97" r="3.7"/><circle cx="306.47" cy="750.19" r="3.7"/><circle cx="309" cy="753.11" r="3.7"/><circle cx="310.9" cy="755.31" r="3.7"/><circle cx="313.5" cy="758.31" r="3.7"/><circle cx="316.6" cy="761.89" r="3.7"/><circle cx="319.5" cy="765.24" r="3.7"/><circle cx="323.2" cy="769.52" r="3.7"/><circle cx="292.8" cy="718.84" r="3.7"/><circle cx="294.48" cy="720.78" r="3.7"/><circle cx="296.38" cy="722.98" r="3.7"/><circle cx="297.71" cy="724.51" r="3.7"/><circle cx="300.6" cy="727.85" r="3.7"/><circle cx="301.4" cy="728.78" r="3.7"/><circle cx="303.3" cy="730.97" r="3.7"/><circle cx="306" cy="734.09" r="3.7"/><circle cx="308" cy="736.4" r="3.7"/><circle cx="309.69" cy="738.35" r="3.7"/><circle cx="311.96" cy="740.98" r="3.7"/><circle cx="314.77" cy="744.22" r="3.7"/><circle cx="316.47" cy="746.18" r="3.7"/><circle cx="318.73" cy="748.79" r="3.7"/><circle cx="322.3" cy="752.92" r="3.7"/><circle cx="299" cy="710.45" r="3.7"/><circle cx="299.47" cy="710.99" r="3.7"/><circle cx="299.89" cy="711.47" r="3.7"/><circle cx="302.5" cy="714.49" r="3.7"/><circle cx="303.08" cy="715.16" r="3.7"/><circle cx="303.73" cy="715.92" r="3.7"/><circle cx="304.73" cy="717.06" r="3.7"/><circle cx="307.19" cy="719.91" r="3.7"/><circle cx="307.65" cy="720.44" r="3.7"/><circle cx="308.29" cy="721.18" r="3.7"/><circle cx="309.27" cy="722.32" r="3.7"/><circle cx="309.69" cy="722.8" r="3.7"/><circle cx="312.22" cy="725.72" r="3.7"/><circle cx="313" cy="726.62" r="3.7"/><circle cx="313.77" cy="727.51" r="3.7"/><circle cx="316.63" cy="730.82" r="3.7"/><circle cx="318.89" cy="733.43" r="3.7"/><circle cx="319.41" cy="734.03" r="3.7"/><circle cx="321.94" cy="736.95" r="3.7"/><circle cx="324.27" cy="739.64" r="3.7"/><circle cx="325.24" cy="740.76" r="3.7"/><circle cx="328.09" cy="744.06" r="3.7"/><circle cx="330.91" cy="747.31" r="3.7"/><circle cx="331" cy="747.41" r="3.7"/><circle cx="333.7" cy="750.53" r="3.7"/><circle cx="336.5" cy="753.77" r="3.7"/><circle cx="339.4" cy="757.12" r="3.7"/><circle cx="346" cy="764.74" r="3.7"/><circle cx="355.6" cy="775.84" r="3.7"/><circle cx="312.8" cy="710.83" r="3.7"/><circle cx="314.65" cy="712.97" r="3.7"/><circle cx="316.18" cy="714.73" r="3.7"/><circle cx="317.4" cy="716.15" r="3.7"/><circle cx="319.22" cy="718.25" r="3.7"/><circle cx="321.5" cy="720.88" r="3.7"/><circle cx="323.28" cy="722.94" r="3.7"/><circle cx="325.89" cy="725.96" r="3.7"/><circle cx="328.19" cy="728.61" r="3.7"/><circle cx="329.08" cy="729.65" r="3.7"/><circle cx="331" cy="731.86" r="3.7"/><circle cx="347.9" cy="751.38" r="3.7"/><circle cx="310.6" cy="692.73" r="3.7"/><circle cx="320.7" cy="704.4" r="3.7"/><circle cx="324.05" cy="708.27" r="3.7"/><circle cx="326.49" cy="711.1" r="3.7"/><circle cx="328.75" cy="713.7" r="3.7"/><circle cx="329.7" cy="714.8" r="3.7"/><circle cx="331.69" cy="717.1" r="3.7"/><circle cx="334.04" cy="719.81" r="3.7"/><circle cx="337" cy="723.23" r="3.7"/><circle cx="338" cy="724.39" r="3.7"/><circle cx="338.54" cy="725.02" r="3.7"/><circle cx="339.57" cy="726.21" r="3.7"/><circle cx="342.05" cy="729.07" r="3.7"/><circle cx="344.85" cy="732.31" r="3.7"/><circle cx="345.71" cy="733.3" r="3.7"/><circle cx="348.5" cy="736.52" r="3.7"/><circle cx="350.98" cy="739.38" r="3.7"/><circle cx="351.5" cy="739.99" r="3.7"/><circle cx="357.5" cy="746.92" r="3.7"/><circle cx="360.4" cy="750.27" r="3.7"/><circle cx="366.1" cy="756.85" r="3.7"/><circle cx="373.7" cy="765.63" r="3.7"/><circle cx="379.9" cy="772.8" r="3.7"/><circle cx="332.8" cy="702.83" r="3.7"/><circle cx="339.3" cy="710.34" r="3.7"/><circle cx="342.6" cy="714.15" r="3.7"/><circle cx="358" cy="731.94" r="3.7"/><circle cx="361" cy="735.41" r="3.7"/><circle cx="363.5" cy="738.29" r="3.7"/><circle cx="339.4" cy="694.9" r="3.7"/><circle cx="340.8" cy="696.51" r="3.7"/><circle cx="342.6" cy="698.59" r="3.7"/><circle cx="344.87" cy="701.21" r="3.7"/><circle cx="348.87" cy="705.83" r="3.7"/><circle cx="352.05" cy="709.51" r="3.7"/><circle cx="353.21" cy="710.85" r="3.7"/><circle cx="355.95" cy="714.01" r="3.7"/><circle cx="360.16" cy="718.87" r="3.7"/><circle cx="362.27" cy="721.32" r="3.7"/><circle cx="363.49" cy="722.72" r="3.7"/><circle cx="366.09" cy="725.73" r="3.7"/><circle cx="368.88" cy="728.95" r="3.7"/><circle cx="373.66" cy="734.47" r="3.7"/><circle cx="376.11" cy="737.31" r="3.7"/><circle cx="378" cy="739.49" r="3.7"/><circle cx="381.3" cy="743.3" r="3.7"/><circle cx="385.1" cy="747.69" r="3.7"/><circle cx="388.9" cy="752.08" r="3.7"/><circle cx="398.8" cy="763.52" r="3.7"/><circle cx="359.2" cy="702.21" r="3.7"/><circle cx="363.5" cy="707.18" r="3.7"/><circle cx="386.3" cy="733.52" r="3.7"/><circle cx="366.4" cy="694.98" r="3.7"/><circle cx="373" cy="702.6" r="3.7"/><circle cx="375" cy="704.91" r="3.7"/><circle cx="379.6" cy="710.23" r="3.7"/><circle cx="381.28" cy="712.17" r="3.7"/><circle cx="385.65" cy="717.21" r="3.7"/><circle cx="388.65" cy="720.68" r="3.7"/><circle cx="390.41" cy="722.71" r="3.7"/><circle cx="392.21" cy="724.8" r="3.7"/><circle cx="395.2" cy="728.25" r="3.7"/><circle cx="411.2" cy="746.73" r="3.7"/><circle cx="381.3" cy="696.63" r="3.7"/><circle cx="383.2" cy="698.83" r="3.7"/><circle cx="402.8" cy="721.47" r="3.7"/><circle cx="384" cy="684.2" r="3.7"/><circle cx="394.6" cy="696.44" r="3.7"/><circle cx="398" cy="700.37" r="3.7"/><circle cx="404.2" cy="707.53" r="3.7"/><circle cx="409" cy="713.08" r="3.7"/><circle cx="412.3" cy="716.89" r="3.7"/><circle cx="431" cy="738.5" r="3.7"/><circle cx="432.3" cy="740" r="3.7"/><circle cx="433.2" cy="709.93" r="3.7"/><circle cx="108.2" cy="941.8" r="3.7"/><circle cx="182.2" cy="917.5" r="3.7"/><circle cx="185.4" cy="874.7" r="3.7"/><circle cx="239.6" cy="766.1" r="3.7"/><circle cx="250.2" cy="778.3" r="3.7"/><circle cx="243.9" cy="786.2" r="3.7"/><circle cx="232.3" cy="789.4" r="3.7"/><circle cx="240.4" cy="798.4" r="3.7"/><circle cx="227.2" cy="813.9" r="3.7"/><circle cx="235.5" cy="823.7" r="3.7"/><circle cx="257.3" cy="785.4" r="3.7"/><circle cx="258.9" cy="790.2" r="3.7"/><circle cx="252.9" cy="765.2" r="3.7"/><circle cx="275.6" cy="839" r="3.7"/><circle cx="337.8" cy="786.8" r="3.7"/><circle cx="365.1" cy="786.8" r="3.7"/><circle cx="356.8" cy="808.7" r="3.7"/><circle cx="466.8" cy="592.8" r="3.7"/><circle cx="480.1" cy="670.1" r="3.7"/><circle cx="445" cy="722.7" r="3.7"/><circle cx="469.7" cy="719" r="3.7"/><circle cx="453.7" cy="795.8" r="3.7"/><circle cx="444" cy="815.3" r="3.7"/><circle cx="224.1" cy="1162.4" r="3.7"/><circle cx="192.9" cy="1184.7" r="3.7"/><circle cx="232.9" cy="1186.7" r="3.7"/><circle cx="234.9" cy="1191.8" r="3.7"/><circle cx="238.7" cy="1203.7" r="3.7"/><circle cx="224.1" cy="1216.8" r="3.7"/><circle cx="206.8" cy="1223.2" r="3.7"/><circle cx="251.1" cy="1238.9" r="3.7"/><circle cx="254.4" cy="1248.2" r="3.7"/><circle cx="232.2" cy="1241.4" r="3.7"/><circle cx="214.7" cy="1246.5" r="3.7"/><circle cx="129.6" cy="1281.9" r="3.7"/><circle cx="148.9" cy="1280.6" r="3.7"/><circle cx="150.1" cy="1284.4" r="3.7"/><circle cx="151.1" cy="1288.7" r="3.7"/><circle cx="153.7" cy="1297.1" r="3.7"/><circle cx="155.2" cy="1298.9" r="3.7"/><circle cx="115.7" cy="1299.1" r="3.7"/><circle cx="118.2" cy="1305.9" r="3.7"/><circle cx="120.8" cy="1312.8" r="3.7"/><circle cx="124.1" cy="1321.9" r="3.7"/><circle cx="139.2" cy="1309.7" r="3.7"/><circle cx="145.1" cy="1327" r="3.7"/><circle cx="160" cy="1314.3" r="3.7"/><circle cx="162.5" cy="1319.4" r="3.7"/><circle cx="128.6" cy="1335.6" r="3.7"/><circle cx="130.4" cy="1340.1" r="3.7"/><circle cx="131.6" cy="1343.4" r="3.7"/><circle cx="134.7" cy="1351.5" r="3.7"/><circle cx="167.6" cy="1336.3" r="3.7"/><circle cx="168.9" cy="1339.4" r="3.7"/><circle cx="172.9" cy="1349.7" r="3.7"/><circle cx="138" cy="1361.5" r="3.7"/><circle cx="176.5" cy="1249.5" r="3.7"/><circle cx="179" cy="1255.8" r="3.7"/><circle cx="180.3" cy="1258.4" r="3.7"/><circle cx="181.5" cy="1264.2" r="3.7"/><circle cx="184.1" cy="1270" r="3.7"/><circle cx="200.3" cy="1260.4" r="3.7"/><circle cx="221.5" cy="1266" r="3.7"/><circle cx="224.1" cy="1271.8" r="3.7"/><circle cx="225.3" cy="1276.3" r="3.7"/><circle cx="226.6" cy="1279.4" r="3.7"/><circle cx="192.2" cy="1292.8" r="3.7"/><circle cx="194.4" cy="1301.6" r="3.7"/><circle cx="231.1" cy="1295.1" r="3.7"/><circle cx="181.8" cy="1376.6" r="3.7"/><circle cx="184.8" cy="1383.7" r="3.7"/><circle cx="254.4" cy="1472" r="3.7"/><circle cx="278.4" cy="1203.7" r="3.7"/><circle cx="298.9" cy="1207.7" r="3.7"/><circle cx="386.7" cy="1179.6" r="3.7"/><circle cx="400.6" cy="1218.4" r="3.7"/><circle cx="267.2" cy="1285.7" r="3.7"/><circle cx="298.1" cy="1259.6" r="3.7"/><circle cx="305.2" cy="1281.9" r="3.7"/><circle cx="323.4" cy="1276.8" r="3.7"/><circle cx="334.1" cy="1251.5" r="3.7"/><circle cx="374.1" cy="1256.1" r="3.7"/><circle cx="379.9" cy="1271.8" r="3.7"/><circle cx="388" cy="1294.1" r="3.7"/><circle cx="392.3" cy="1307.2" r="3.7"/><circle cx="334.1" cy="1362.2" r="3.7"/><circle cx="298.9" cy="1372.8" r="3.7"/><circle cx="273.3" cy="1412.5" r="3.7"/><circle cx="485.3" cy="1124.7" r="3.7"/><circle cx="423.5" cy="1171.5" r="3.7"/><circle cx="458.2" cy="1271.8" r="3.7"/><circle cx="442.5" cy="1336.8" r="3.7"/><circle cx="484.3" cy="1346.5" r="3.7"/><circle cx="502.3" cy="1396.1" r="3.7"/></g>
</svg>
</body></html>
